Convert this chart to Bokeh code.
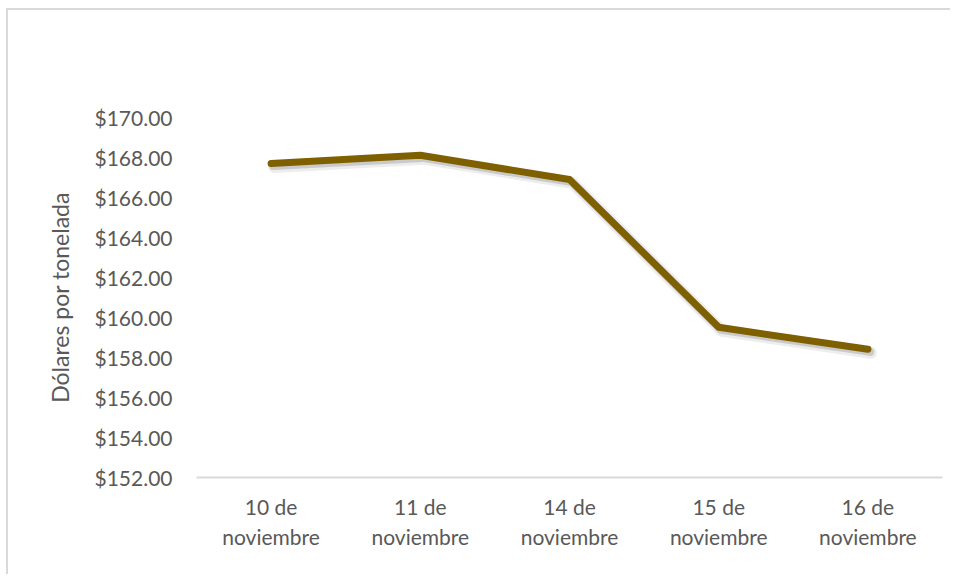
from bokeh.plotting import figure
from bokeh.models import Range1d, FactorRange, NumeralTickFormatter, ColumnDataSource
from bokeh.transform import dodge
from bokeh.embed import file_html
from bokeh.resources import INLINE

# ---- data ----
categories = ["10 de\nnoviembre", "11 de\nnoviembre", "14 de\nnoviembre",
              "15 de\nnoviembre", "16 de\nnoviembre"]
prices = [167.70, 168.11, 166.90, 159.51, 158.41]
y_ticks = [152, 154, 156, 158, 160, 162, 164, 166, 168, 170]
y_title = "Dólares por tonelada"

FONT = "Lato"
TXT = "#595959"

p = figure(width=944, height=566, x_range=FactorRange(*categories),
           y_range=Range1d(152, 170), output_backend="svg", toolbar_location=None,
           min_border_left=188, min_border_right=10, min_border_top=107,
           min_border_bottom=99)
p.margin = (8, 0, 0, 6)
p.styles = {"border-top": "2px solid #d9d9d9", "border-left": "2px solid #d9d9d9"}

p.outline_line_color = None
p.xgrid.grid_line_color = None
p.ygrid.grid_line_color = None
p.background_fill_color = "white"
p.border_fill_color = "white"

src = ColumnDataSource(dict(x=categories, y=prices))

# soft shadow under the line
p.line(x=dodge("x", 0.02, range=p.x_range), y=dodge("y", -0.17), source=src,
       line_color="#9a9a9a", line_alpha=0.18, line_width=12, line_join="round", line_cap="round")
p.line(x=dodge("x", 0.015, range=p.x_range), y=dodge("y", -0.13), source=src,
       line_color="#7a7a7a", line_alpha=0.3, line_width=8, line_join="round", line_cap="round")
# main line
p.line(x="x", y="y", source=src, line_color="#7F6000", line_width=7,
       line_join="round", line_cap="round")

# y axis
ya = p.yaxis[0]
ya.ticker = y_ticks
ya.formatter = NumeralTickFormatter(format="$0,0.00")
ya.axis_line_color = None
ya.major_tick_line_color = None
ya.minor_tick_line_color = None
ya.major_label_standoff = 18
ya.major_label_text_font = FONT
ya.major_label_text_font_size = "21px"
ya.major_label_text_color = TXT
ya.axis_label = y_title
ya.axis_label_text_font = FONT
ya.axis_label_text_font_size = "23px"
ya.axis_label_text_font_style = "normal"
ya.axis_label_text_color = TXT
ya.axis_label_standoff = 17

# x axis
xa = p.xaxis[0]
xa.axis_line_color = "#d9d9d9"
xa.axis_line_width = 2
xa.major_tick_line_color = None
xa.minor_tick_line_color = None
xa.major_label_standoff = 10
xa.major_label_text_font = FONT
xa.major_label_text_font_size = "21px"
xa.major_label_text_color = TXT

open("out.html", "w").write(file_html(p, INLINE))
